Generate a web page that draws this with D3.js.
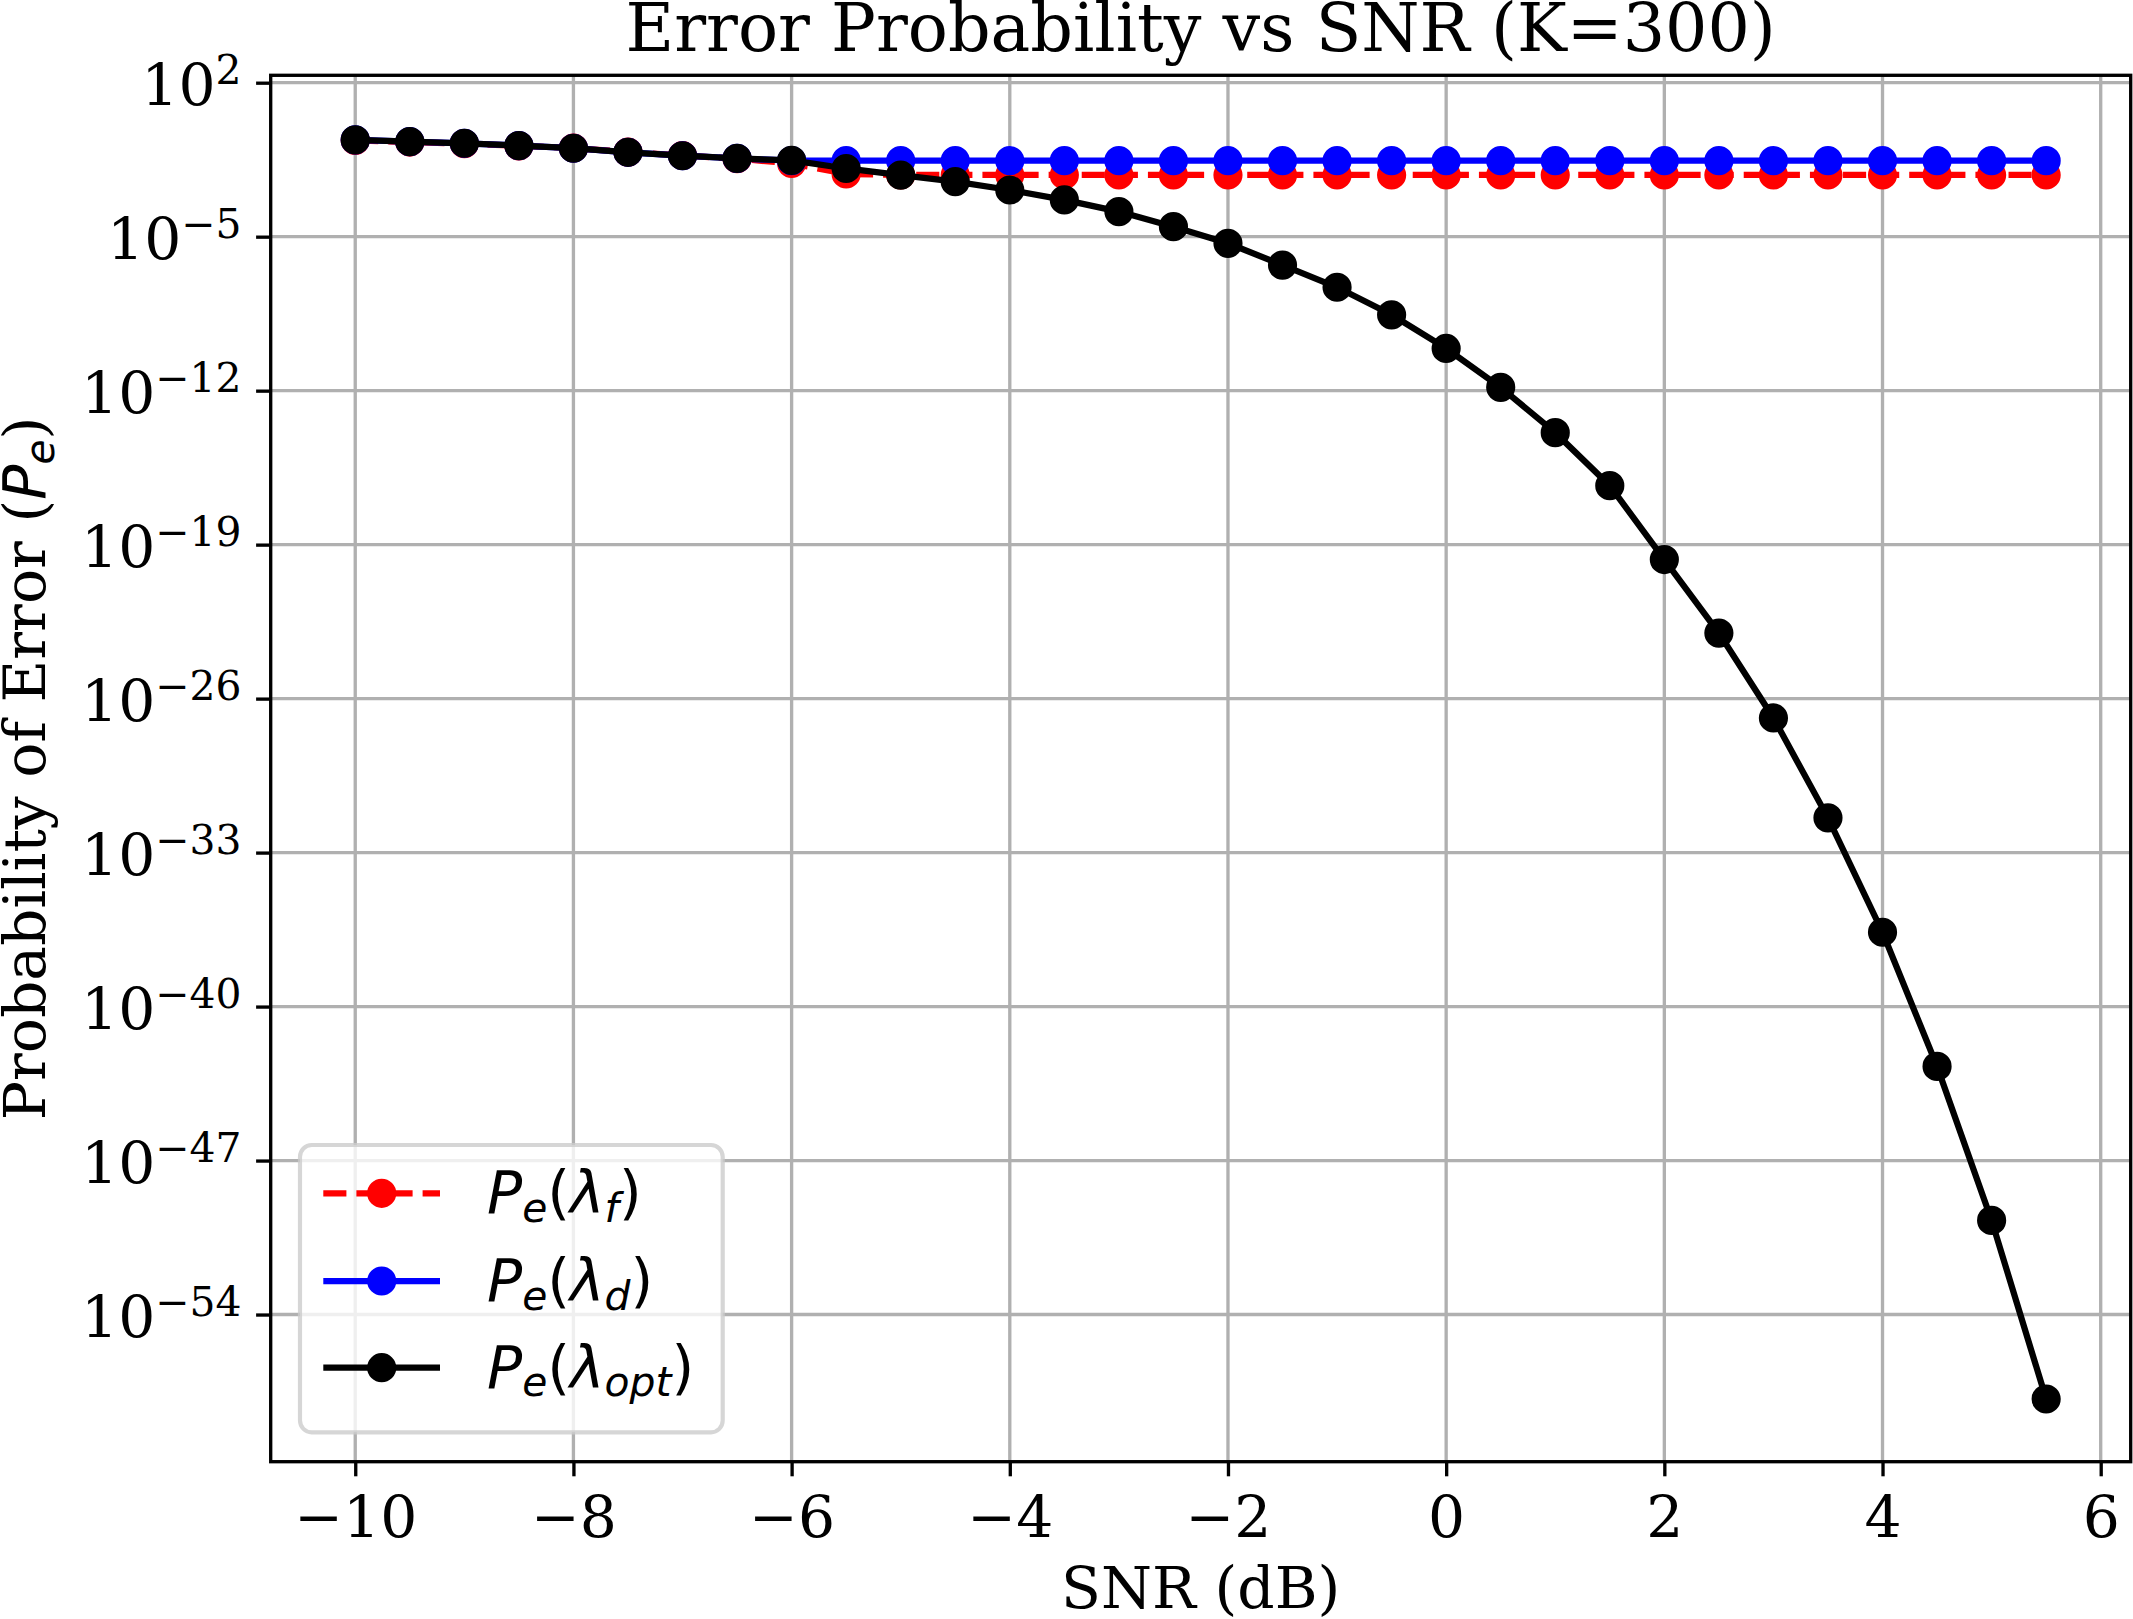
<!DOCTYPE html>
<html>
<head>
<meta charset="utf-8">
<script src="https://cdn.jsdelivr.net/npm/d3@7"></script>
<style>
  body { margin: 0; background: #fff; }
  svg { display: block; }
  .serif { font-family: "DejaVu Serif", serif; }
  .axis text { font-family: "DejaVu Serif", serif; font-size: 58.33px; fill: #000; }
  .axis path { display: none; }
  .axis line { stroke: #000; stroke-width: 3.33px; }
  .grid line { stroke: #b0b0b0; stroke-width: 3.33px; }
  .math { font-family: "DejaVu Sans", sans-serif; }
</style>
</head>
<body>
<div class="content"></div>
<script>
const snrDb = [-10, -9.5, -9, -8.5, -8, -7.5, -7, -6.5, -6, -5.5, -5, -4.5, -4, -3.5, -3, -2.5,
  -2, -1.5, -1, -0.5, 0, 0.5, 1, 1.5, 2, 2.5, 3, 3.5, 4, 4.5, 5, 5.5];

// P_e(lambda_f), red dashed
const peFixed = [2.40e-1, 2.00e-1, 1.70e-1, 1.35e-1, 1.07e-1, 7.0e-2, 4.9e-2, 3.5e-2, 2.16e-2, 7.1e-3,
  6.4e-3, 6.4e-3, 6.4e-3, 6.4e-3, 6.4e-3, 6.4e-3, 6.4e-3, 6.4e-3, 6.4e-3, 6.4e-3, 6.4e-3,
  6.4e-3, 6.4e-3, 6.4e-3, 6.4e-3, 6.4e-3, 6.4e-3, 6.4e-3, 6.4e-3, 6.4e-3, 6.4e-3, 6.4e-3];

// P_e(lambda_d), blue
const peDefault = [2.51e-1, 2.09e-1, 1.76e-1, 1.38e-1, 1.05e-1, 6.84e-2, 4.79e-2, 3.63e-2, 2.85e-2,
  2.85e-2, 2.85e-2, 2.85e-2, 2.85e-2, 2.85e-2, 2.85e-2, 2.85e-2, 2.85e-2, 2.85e-2, 2.85e-2, 2.85e-2,
  2.85e-2, 2.85e-2, 2.85e-2, 2.85e-2, 2.85e-2, 2.85e-2, 2.85e-2, 2.85e-2, 2.85e-2, 2.85e-2, 2.85e-2, 2.85e-2];

// P_e(lambda_opt), black
const peOpt = [2.51e-1, 2.09e-1, 1.76e-1, 1.38e-1, 1.05e-1, 6.84e-2, 4.79e-2, 3.63e-2, 2.95e-2, 1.26e-2,
  6.3e-3, 3.16e-3, 1.32e-3, 4.68e-4, 1.38e-4, 2.85e-5, 5.0e-6, 5.1e-7, 5.0e-8, 2.8e-9, 8.3e-11,
  1.41e-12, 1.23e-14, 4.8e-17, 2.1e-20, 9.5e-24, 1.32e-27, 3.8e-32, 2.4e-37, 1.9e-43, 1.9e-50, 1.45e-58];

const xTicks = [-10, -8, -6, -4, -2, 0, 2, 4, 6];
const yTicks = [1e2, 1e-5, 1e-12, 1e-19, 1e-26, 1e-33, 1e-40, 1e-47, 1e-54];

const series = [
  { name: "f", values: peFixed, color: "#ff0000", dash: "23.1,10" },
  { name: "d", values: peDefault, color: "#0000ff", dash: null },
  { name: "opt", values: peOpt, color: "#000000", dash: null },
];

const W = 2133, H = 1619;
const box = { left: 270.7, right: 2130.7, top: 75.3, bottom: 1461.7 };
const fs = 58.33;

const xScale = d3.scaleLinear().domain([-10.775, 6.275]).range([box.left, box.right]);
const yScale = d3.scaleLog().domain([Math.pow(10, -60.69), Math.pow(10, 2.336)]).range([box.bottom, box.top]);

const svg = d3.select(".content").append("svg").attr("width", W).attr("height", H);
svg.append("rect").attr("width", W).attr("height", H).attr("fill", "#fff");

//--> grid
const grid = svg.append("g").attr("class", "grid");
grid.selectAll(".gx").data(xTicks).enter().append("line")
  .attr("x1", d => xScale(d)).attr("x2", d => xScale(d))
  .attr("y1", box.top).attr("y2", box.bottom);
grid.selectAll(".gy").data(yTicks).enter().append("line")
  .attr("y1", d => yScale(d)).attr("y2", d => yScale(d))
  .attr("x1", box.left).attr("x2", box.right);

//--> series
const line = d3.line().x((d, i) => xScale(snrDb[i])).y(d => yScale(d));
series.forEach(s => {
  const g = svg.append("g");
  g.append("path")
    .attr("d", line(s.values))
    .attr("fill", "none")
    .attr("stroke", s.color)
    .attr("stroke-width", 6.25)
    .attr("stroke-dasharray", s.dash);
  g.selectAll("circle").data(s.values).enter().append("circle")
    .attr("cx", (d, i) => xScale(snrDb[i]))
    .attr("cy", d => yScale(d))
    .attr("r", 12.5)
    .attr("fill", s.color)
    .attr("stroke", s.color)
    .attr("stroke-width", 4.17);
});

//--> axes
const xAxis = d3.axisBottom(xScale).tickValues(xTicks).tickSize(14.6).tickPadding(14.6)
  .tickFormat(d => (d < 0 ? "\u2212" + Math.abs(d) : d));
svg.append("g").attr("class", "axis")
  .attr("transform", `translate(0, ${box.bottom})`)
  .call(xAxis)
  .selectAll("text").attr("dy", "0.785em");

const yAxis = d3.axisLeft(yScale).tickValues(yTicks).tickSize(14.6).tickPadding(14.6).tickFormat("");
const yg = svg.append("g").attr("class", "axis")
  .attr("transform", `translate(${box.left}, 0)`)
  .call(yAxis);
yg.selectAll(".tick text").each(function (d) {
  const e = Math.round(Math.log10(d));
  const t = d3.select(this).attr("dy", "0.37em");
  t.append("tspan").text("10");
  t.append("tspan").attr("dy", -0.36 * fs).attr("font-size", fs * 0.7)
    .text(e < 0 ? "\u2212" + Math.abs(e) : e);
});

//--> spines
svg.append("rect")
  .attr("x", box.left).attr("y", box.top)
  .attr("width", box.right - box.left).attr("height", box.bottom - box.top)
  .attr("fill", "none").attr("stroke", "#000").attr("stroke-width", 3.33);

//--> title
svg.append("text").attr("class", "serif")
  .attr("x", (box.left + box.right) / 2).attr("y", 51)
  .attr("text-anchor", "middle").attr("font-size", 66.67)
  .text("Error Probability vs SNR (K=300)");

//--> x label
svg.append("text").attr("class", "serif")
  .attr("x", (box.left + box.right) / 2).attr("y", 1608)
  .attr("text-anchor", "middle").attr("font-size", fs)
  .text("SNR (dB)");

//--> y label
const yl = svg.append("text").attr("class", "serif")
  .attr("transform", `translate(45, ${(box.top + box.bottom) / 2}) rotate(-90)`)
  .attr("text-anchor", "middle").attr("font-size", fs);
yl.append("tspan").text("Probability of Error (");
yl.append("tspan").attr("class", "math").attr("font-style", "italic").text("P");
yl.append("tspan").attr("class", "math").attr("font-style", "italic")
  .attr("font-size", fs * 0.7).attr("dy", 0.15 * fs).text("e");
yl.append("tspan").attr("dy", -0.15 * fs).text(")");

//--> legend
const legend = svg.append("g").attr("transform", "translate(300, 1145)");
legend.append("rect")
  .attr("width", 422.7).attr("height", 287.3).attr("rx", 11.7).attr("ry", 11.7)
  .attr("fill", "#fff").attr("fill-opacity", 0.8)
  .attr("stroke", "#cccccc").attr("stroke-opacity", 0.8).attr("stroke-width", 4.17);

const rowY = [48.3, 136, 222.7];
series.forEach((s, i) => {
  const row = legend.append("g").attr("transform", `translate(0, ${rowY[i]})`);
  row.append("line")
    .attr("x1", 23.3).attr("x2", 140)
    .attr("stroke", s.color).attr("stroke-width", 6.25)
    .attr("stroke-dasharray", s.dash);
  row.append("circle").attr("cx", 81.7).attr("r", 12.5)
    .attr("fill", s.color).attr("stroke", s.color).attr("stroke-width", 4.17);
  const t = row.append("text").attr("class", "math")
    .attr("x", 187).attr("y", 20).attr("font-size", fs);
  t.append("tspan").attr("font-style", "italic").text("P");
  t.append("tspan").attr("font-style", "italic").attr("font-size", fs * 0.7)
    .attr("dy", 0.15 * fs).text("e");
  t.append("tspan").attr("dy", -0.15 * fs).text("(");
  t.append("tspan").attr("font-style", "italic").text("\u03bb");
  t.append("tspan").attr("font-style", "italic").attr("font-size", fs * 0.7)
    .attr("dy", 0.15 * fs).text(s.name);
  t.append("tspan").attr("dy", -0.15 * fs).text(")");
});
</script>
</body>
</html>
